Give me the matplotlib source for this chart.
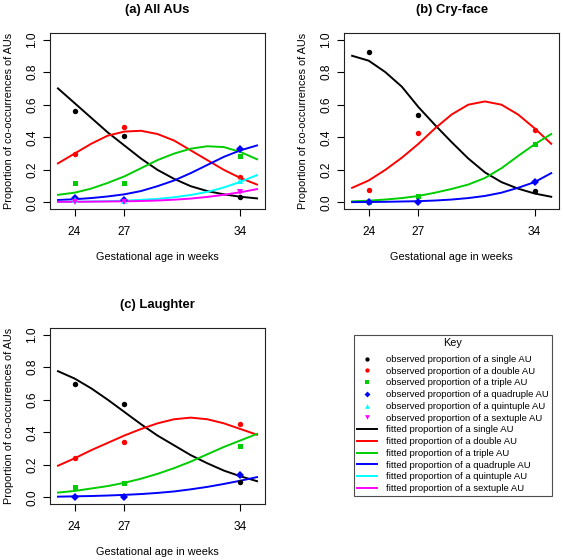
import matplotlib
matplotlib.use('Agg')
import matplotlib.pyplot as plt
from matplotlib.lines import Line2D

plt.rcParams['font.family'] = ['Liberation Sans', 'DejaVu Sans']
plt.rcParams['font.size'] = 7.8
plt.rcParams['axes.linewidth'] = 0.8

# observed weeks and the week grid the fitted curves were read at
weeks_obs = [24, 27, 34]
weeks_fit = [23, 24, 25, 26, 27, 28, 29, 30, 31, 32, 33, 34, 35]

sizes = ['single', 'double', 'triple', 'quadruple', 'quintuple', 'sextuple']
colors = ['black', '#FF0000', '#00CD00', '#0000FF', '#00FFFF', '#FF00FF']
markers = ['o', 'o', 's', 'D', '^', 'v']
msizes = [3.9, 3.9, 3.6, 3.8, 4.2, 4.2]

# (a) All AUs
obs_all = [
    [0.56, 0.41, 0.033],
    [0.295, 0.463, 0.157],
    [0.122, 0.122, 0.286],
    [0.027, 0.016, 0.327],
    [0.015, 0.01, 0.13],
    [0.0, 0.0, 0.065],
]
fit_all = [
    [0.70, 0.61, 0.52, 0.43, 0.35, 0.27, 0.20, 0.145, 0.10, 0.07, 0.05, 0.035, 0.025],
    [0.24, 0.30, 0.36, 0.41, 0.435, 0.44, 0.42, 0.38, 0.32, 0.26, 0.20, 0.15, 0.11],
    [0.047, 0.06, 0.085, 0.12, 0.16, 0.21, 0.26, 0.30, 0.33, 0.345, 0.34, 0.31, 0.265],
    [0.015, 0.02, 0.027, 0.037, 0.05, 0.07, 0.10, 0.135, 0.18, 0.23, 0.28, 0.32, 0.35],
    [0.004, 0.005, 0.006, 0.008, 0.011, 0.016, 0.022, 0.032, 0.046, 0.065, 0.092, 0.127, 0.168],
    [0.004, 0.004, 0.005, 0.006, 0.007, 0.009, 0.012, 0.017, 0.024, 0.034, 0.047, 0.063, 0.082],
]

# (b) Cry-face
obs_cry = [
    [0.922, 0.537, 0.071],
    [0.078, 0.424, 0.445],
    [0.0, 0.041, 0.357],
    [0.0, 0.0, 0.127],
]
fit_cry = [
    [0.90, 0.87, 0.80, 0.71, 0.585, 0.475, 0.37, 0.27, 0.185, 0.125, 0.085, 0.055, 0.035],
    [0.09, 0.135, 0.20, 0.275, 0.36, 0.455, 0.54, 0.60, 0.62, 0.60, 0.54, 0.455, 0.36],
    [0.007, 0.011, 0.018, 0.027, 0.04, 0.06, 0.083, 0.11, 0.15, 0.21, 0.285, 0.357, 0.42],
    [0.002, 0.003, 0.004, 0.006, 0.008, 0.012, 0.018, 0.027, 0.04, 0.06, 0.09, 0.125, 0.18],
]

# (c) Laughter
obs_laugh = [
    [0.694, 0.571, 0.098],
    [0.243, 0.339, 0.451],
    [0.063, 0.086, 0.314],
    [0.0, 0.0, 0.137],
]
fit_laugh = [
    [0.775, 0.73, 0.67, 0.60, 0.525, 0.45, 0.38, 0.32, 0.26, 0.21, 0.165, 0.13, 0.10],
    [0.195, 0.24, 0.29, 0.335, 0.38, 0.42, 0.455, 0.48, 0.49, 0.48, 0.455, 0.42, 0.385],
    [0.03, 0.04, 0.055, 0.07, 0.09, 0.115, 0.145, 0.18, 0.22, 0.265, 0.31, 0.35, 0.39],
    [0.005, 0.007, 0.009, 0.012, 0.016, 0.021, 0.028, 0.037, 0.05, 0.065, 0.083, 0.103, 0.125],
]

panels = [
    ('(a) All AUs', obs_all, fit_all, [0.0888, 0.6268, 0.3819, 0.3143]),
    ('(b) Cry-face', obs_cry, fit_cry, [0.6113, 0.6268, 0.3819, 0.3143]),
    ('(c) Laughter', obs_laugh, fit_laugh, [0.0888, 0.1, 0.3819, 0.3143]),
]

fig = plt.figure(figsize=(5.63, 5.6), dpi=100)

for title, obs, fit, rect in panels:
    ax = fig.add_axes(rect)
    for i in range(len(fit)):
        ax.plot(weeks_fit, fit[i], color=colors[i], lw=1.4, zorder=2)
    for i in range(len(obs)):
        ax.plot(weeks_obs, obs[i], linestyle='none', marker=markers[i], ms=msizes[i],
                color=colors[i], markeredgewidth=0, zorder=3)
    ax.set_xlim(22.52, 35.48)
    ax.set_ylim(-0.04, 1.04)
    ax.set_xticks(weeks_obs)
    ax.set_yticks([0.0, 0.2, 0.4, 0.6, 0.8, 1.0])
    ax.set_yticklabels(['0.0', '0.2', '0.4', '0.6', '0.8', '1.0'], rotation=90, va='center')
    ax.tick_params(direction='out', length=5, width=0.8, labelsize=8.6)
    ax.tick_params(axis='x', pad=7.5)
    ax.tick_params(axis='y', pad=3.5)
    ax.set_xlabel('Gestational age in weeks', fontsize=7.8, labelpad=10)
    ax.set_ylabel('Proportion of co-occurrences of AUs', fontsize=7.8, labelpad=9)
    ax.set_title(title, fontsize=9.4, fontweight='bold', pad=14.5)
    for s in ax.spines.values():
        s.set_color('#222222')

handles = []
labels = []
for i in range(6):
    handles.append(Line2D([], [], linestyle='none', marker=markers[i], ms=msizes[i] - 0.8,
                          color=colors[i], markeredgewidth=0))
    labels.append('observed proportion of a %s AU' % sizes[i])
for i in range(6):
    handles.append(Line2D([], [], color=colors[i], lw=1.4))
    labels.append('fitted proportion of a %s AU' % sizes[i])

leg = fig.legend(handles, labels, loc='upper left', bbox_to_anchor=(354 / 563, 1 - 335 / 560),
                 title='Key', fontsize=6.8, title_fontsize=7.8, frameon=True, fancybox=False,
                 edgecolor='#222222', borderaxespad=0, borderpad=0.35, labelspacing=0.29,
                 handlelength=2.1, handletextpad=0.9)
leg.get_frame().set_linewidth(0.8)
# a little more room between the "Key" title and the first entry
leg._legend_box.sep = 4.8

fig.savefig('out.png', dpi=100)
